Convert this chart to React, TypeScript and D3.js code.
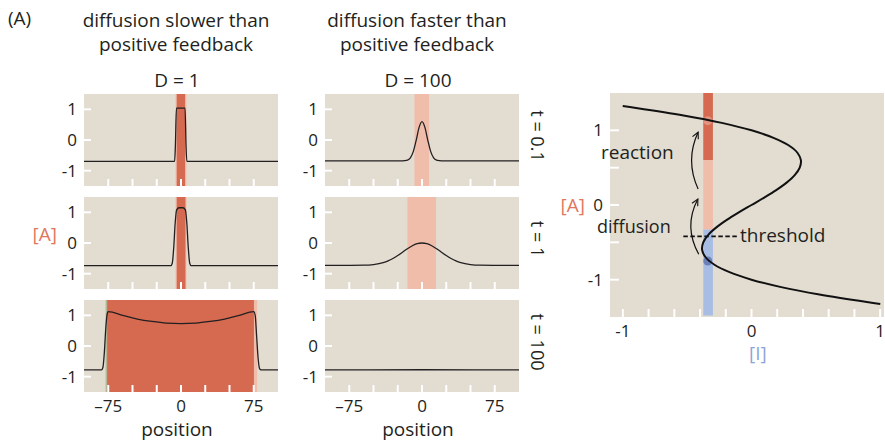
import React, { useEffect, useRef } from "react";
import * as d3 from "d3";

// ---- data ----
const positionTicks = [-75, -50, -25, 0, 25, 50, 75];
const positionLabels = [-75, 0, 75];
const aTicks = [-1, 0, 1];

// D = 1 (diffusion slower than positive feedback)
const slowT01 = [[-100, -0.7], [-6.6, -0.7], [-5.8, -0.2], [-4.7, 1.04], [4.2, 1.04], [5.2, -0.2], [6.0, -0.7], [100, -0.7]];
const slowT1 = [[-100, -0.74], [-10.5, -0.74], [-9, -0.66], [-7.5, -0.15], [-6, 0.65], [-4.5, 1.08], [-2, 1.15], [2, 1.15], [4.5, 1.08], [6, 0.65], [7.5, -0.15], [9, -0.66], [10.5, -0.74], [100, -0.74]];
const slowT100 = [[-100, -0.78], [-82, -0.78], [-80.5, -0.7], [-79, -0.2], [-77.5, 0.6], [-76, 1.06], [-75, 1.12], [-60, 1.0], [-45, 0.88], [-30, 0.8], [-15, 0.745], [0, 0.73], [15, 0.745], [30, 0.8], [45, 0.88], [60, 1.0], [75, 1.12], [76.5, 1.0], [78, 0.3], [79.5, -0.4], [81, -0.74], [82.5, -0.78], [100, -0.78]];
const slowBands = [
  { light: [-5.6, 5.6], dark: [-4.4, 4.2] },
  { light: [-5.6, 5.6], dark: [-4.4, 4.6] },
  { light: [-78.3, 78.5], dark: [-76.2, 75.2] },
];
const slowEdge = [null, null, -76.2];

// D = 100 (diffusion faster than positive feedback)
const fastT01 = [[-100, -0.68], [-20, -0.68], [-18, -0.675], [-15, -0.657], [-12, -0.58], [-9, -0.38], [-6, -0.01], [-3, 0.41], [0, 0.6], [3, 0.41], [6, -0.01], [9, -0.38], [12, -0.58], [15, -0.657], [18, -0.675], [20, -0.68], [100, -0.68]];
const fastT1 = [[-100, -0.73], [-60, -0.724], [-50, -0.703], [-40, -0.641], [-35, -0.584], [-30, -0.507], [-25, -0.41], [-20, -0.3], [-15, -0.187], [-10, -0.09], [-5, -0.023], [0, 0], [5, -0.023], [10, -0.09], [15, -0.187], [20, -0.3], [25, -0.41], [30, -0.507], [35, -0.584], [40, -0.641], [50, -0.703], [60, -0.724], [100, -0.73]];
const fastT100 = [[-100, -0.78], [0, -0.775], [100, -0.78]];
const fastBands = [
  { light: [-7.8, 7.3], dark: null },
  { light: [-15, 14.5], dark: null },
  { light: null, dark: null },
];
const timeLabels = ["t = 0.1", "t = 1", "t = 100"];

// phase plane: nullcline [I] vs [A]
const nullA = [1.325, 1.3, 1.2, 1.1, 1.0, 0.9, 0.8, 0.7, 0.6, 0.5, 0.4, 0.3, 0.2, 0.1, 0, -0.1, -0.2, -0.3, -0.4, -0.5, -0.6, -0.7, -0.8, -0.9, -1.0, -1.1, -1.2, -1.3, -1.325];
const nullI = [-1.001, -0.897, -0.528, -0.231, 0, 0.171, 0.288, 0.357, 0.384, 0.375, 0.336, 0.273, 0.192, 0.099, 0, -0.099, -0.192, -0.273, -0.336, -0.375, -0.384, -0.357, -0.288, -0.171, 0, 0.231, 0.528, 0.897, 1.001];
const barI = [-0.375, -0.3];
const barSegments = [
  { from: 0.6, to: 1.5, kind: "dark" },
  { from: -0.33, to: 0.6, kind: "light" },
  { from: -1.48, to: -0.33, kind: "blue" },
];
const thresholdA = -0.42;
const thresholdI = [-0.53, -0.11];
const steadyDots = [{ i: -0.34, a: 1.13, kind: "high" }, { i: -0.34, a: -0.75, kind: "low" }];
const reactionArrow = { i0: -0.415, a0: 0.215, ci: -0.517, ca: 0.6, i1: -0.415, a1: 0.975 };
const diffusionArrow = { i0: -0.41, a0: -0.66, ci: -0.53, ca: -0.29, i1: -0.417, a1: 0.08 };
const iTicks = [-1, -0.8, -0.6, -0.4, -0.2, 0, 0.2, 0.4, 0.6, 0.8, 1];
const iLabels = [-1, 0, 1];
const aTicksPhase = [-1, -0.5, 0, 0.5, 1];
const aLabelsPhase = [-1, 0, 1];

const bg = "#E2DCD1";
const darkRed = "#D56A51";
const lightRed = "#F0BDAB";
const blue = "#A8BDE3";
const ink = "#231F20";
const font = "'Open Sans', sans-serif";
const tickSize = 17;
const labelSize = 19;

const fmt = (v: number) => (v < 0 ? "-" + Math.abs(v) : String(v));

export default function App() {
  const ref = useRef<SVGSVGElement>(null);

  useEffect(() => {
    const svg = d3.select(ref.current);
    svg.selectAll("*").remove();

    const pw = 194, ph = 92;
    const cols = [84, 325];
    const rows = [94, 197, 300];

    const x = d3.scaleLinear().domain([-100, 100]).range([0, pw]);
    const y = d3.scaleLinear().domain([-1.5, 1.5]).range([ph, 0]);
    const line = d3.line<number[]>().x((d) => x(d[0])).y((d) => y(d[1])).curve(d3.curveMonotoneX);

    const drawPanel = (x0: number, y0: number, curve: number[][], band: any, edge: number | null, bottom: boolean) => {
      const g = svg.append("g").attr("transform", `translate(${x0},${y0})`);
      g.append("rect").attr("width", pw).attr("height", ph).attr("fill", bg);
      if (band.light) g.append("rect").attr("x", x(band.light[0])).attr("width", x(band.light[1]) - x(band.light[0])).attr("height", ph).attr("fill", lightRed);
      if (band.dark) g.append("rect").attr("x", x(band.dark[0])).attr("width", x(band.dark[1]) - x(band.dark[0])).attr("height", ph).attr("fill", darkRed);
      if (edge != null) g.append("line").attr("x1", x(edge)).attr("x2", x(edge)).attr("y1", 0).attr("y2", ph).attr("stroke", "#5FAF72").attr("stroke-width", 1);
      g.append("path").attr("d", line(curve)).attr("fill", "none").attr("stroke", ink).attr("stroke-width", 1.3);
      aTicks.forEach((t) => {
        g.append("line").attr("x1", 0).attr("x2", 7).attr("y1", y(t)).attr("y2", y(t)).attr("stroke", "#fff").attr("stroke-width", 2);
        g.append("text").attr("x", -7).attr("y", y(t)).attr("dy", "0.36em").attr("text-anchor", "end").attr("font-size", tickSize).text(fmt(t));
      });
      positionTicks.forEach((t) => {
        g.append("line").attr("x1", x(t)).attr("x2", x(t)).attr("y1", ph).attr("y2", ph - 7).attr("stroke", "#fff").attr("stroke-width", 2);
      });
      if (bottom) {
        positionLabels.forEach((t) => {
          g.append("text").attr("x", x(t)).attr("y", ph + 20).attr("text-anchor", "middle").attr("font-size", tickSize).text(t < 0 ? "–" + Math.abs(t) : String(t));
        });
        g.append("text").attr("x", pw / 2 - 4).attr("y", ph + 44).attr("text-anchor", "middle").attr("font-size", labelSize).text("position");
      }
      return g;
    };

    const slow = [slowT01, slowT1, slowT100];
    const fast = [fastT01, fastT1, fastT100];
    rows.forEach((ry, r) => {
      drawPanel(cols[0], ry, slow[r], slowBands[r], slowEdge[r], r === 2);
      drawPanel(cols[1], ry, fast[r], fastBands[r], null, r === 2);
      svg.append("text").attr("transform", `translate(537,${ry + ph / 2 - 4}) rotate(90)`)
        .attr("text-anchor", "middle").attr("dy", "0.35em").attr("font-size", 18).text(timeLabels[r]);
    });

    // headings
    svg.append("text").attr("x", 8).attr("y", 25).attr("font-size", labelSize).text("(A)");
    [["diffusion slower than", "positive feedback", "D = 1"], ["diffusion faster than", "positive feedback", "D = 100"]].forEach((t, i) => {
      const cx = cols[i] + pw / 2 - 5;
      svg.append("text").attr("x", cx).attr("y", 27).attr("text-anchor", "middle").attr("font-size", labelSize).text(t[0]);
      svg.append("text").attr("x", cx).attr("y", 51).attr("text-anchor", "middle").attr("font-size", labelSize).text(t[1]);
      svg.append("text").attr("x", cx + 1).attr("y", 87).attr("text-anchor", "middle").attr("font-size", labelSize).text(t[2]);
    });
    svg.append("text").attr("x", 57).attr("y", 241).attr("text-anchor", "end").attr("font-size", labelSize).attr("fill", "#E0775D").text("[A]");

    // phase plane
    const px0 = 610, py0 = 93, pW = 274, pH = 224;
    const xi = d3.scaleLinear().domain([-1.1, 1.03]).range([0, pW]);
    const ya = d3.scaleLinear().domain([-1.5, 1.5]).range([pH, 0]);
    const g = svg.append("g").attr("transform", `translate(${px0},${py0})`);
    g.append("rect").attr("width", pW).attr("height", pH).attr("fill", bg);
    const segColor: any = { dark: darkRed, light: lightRed, blue: blue };
    barSegments.forEach((s) => {
      g.append("rect").attr("x", xi(barI[0])).attr("width", xi(barI[1]) - xi(barI[0]))
        .attr("y", ya(Math.min(s.to, 1.5))).attr("height", ya(s.from) - ya(Math.min(s.to, 1.5))).attr("fill", segColor[s.kind]);
    });
    steadyDots.forEach((d) => {
      g.append("circle").attr("cx", xi(d.i)).attr("cy", ya(d.a)).attr("r", 4.5)
        .attr("fill", d.kind === "high" ? "#E8A595" : "#3A4F95").attr("opacity", d.kind === "high" ? 0.7 : 0.55);
    });
    const nl = d3.line<number>().x((_, k) => xi(nullI[k])).y((d) => ya(d)).curve(d3.curveCatmullRom);
    g.append("path").attr("d", nl(nullA)).attr("fill", "none").attr("stroke", "#111").attr("stroke-width", 2);
    g.append("line").attr("x1", xi(thresholdI[0])).attr("x2", xi(thresholdI[1])).attr("y1", ya(thresholdA)).attr("y2", ya(thresholdA))
      .attr("stroke", "#111").attr("stroke-width", 1.6).attr("stroke-dasharray", "4.5,2.5");

    svg.append("defs").append("marker").attr("id", "head").attr("viewBox", "0 0 10 10").attr("refX", 9).attr("refY", 5)
      .attr("markerWidth", 8).attr("markerHeight", 8).attr("markerUnits", "userSpaceOnUse").attr("orient", "auto")
      .append("path").attr("d", "M1,1 L9,5 L1,9").attr("fill", "none").attr("stroke", "#111").attr("stroke-width", 1.4);
    [reactionArrow, diffusionArrow].forEach((a) => {
      const p = d3.path();
      p.moveTo(xi(a.i0), ya(a.a0));
      p.quadraticCurveTo(xi(a.ci), ya(a.ca), xi(a.i1), ya(a.a1));
      g.append("path").attr("d", p.toString()).attr("fill", "none").attr("stroke", "#111").attr("stroke-width", 1.2).attr("marker-end", "url(#head)");
    });

    aTicksPhase.forEach((t) => {
      g.append("line").attr("x1", 0).attr("x2", 9).attr("y1", ya(t)).attr("y2", ya(t)).attr("stroke", "#fff").attr("stroke-width", 2);
    });
    aLabelsPhase.forEach((t) => {
      g.append("text").attr("x", -7).attr("y", ya(t)).attr("dy", "0.36em").attr("text-anchor", "end").attr("font-size", tickSize).text(fmt(t));
    });
    iTicks.forEach((t) => {
      g.append("line").attr("x1", xi(t)).attr("x2", xi(t)).attr("y1", pH).attr("y2", pH - 8).attr("stroke", "#fff").attr("stroke-width", 2);
    });
    iLabels.forEach((t) => {
      g.append("text").attr("x", xi(t)).attr("y", pH + 20).attr("text-anchor", "middle").attr("font-size", tickSize).text(fmt(t));
    });
    g.append("text").attr("x", xi(0.05)).attr("y", pH + 43).attr("text-anchor", "middle").attr("font-size", labelSize).attr("fill", "#8EA6D7").text("[I]");
    g.append("text").attr("x", -25).attr("y", ya(0) + 7).attr("text-anchor", "end").attr("font-size", labelSize).attr("fill", "#E0775D").text("[A]");
    svg.append("text").attr("x", 601).attr("y", 159).attr("font-size", labelSize).text("reaction");
    svg.append("text").attr("x", 597).attr("y", 233).attr("font-size", 18).text("diffusion");
    svg.append("text").attr("x", 740).attr("y", 242).attr("font-size", labelSize).text("threshold");

    svg.selectAll("text").attr("font-family", font).filter(function () { return !(this as SVGTextElement).getAttribute("fill"); }).attr("fill", ink);
  }, []);

  return <svg ref={ref} width={885} height={447} style={{ position: "absolute", left: 0, top: 0, background: "#fff" }} />;
}
